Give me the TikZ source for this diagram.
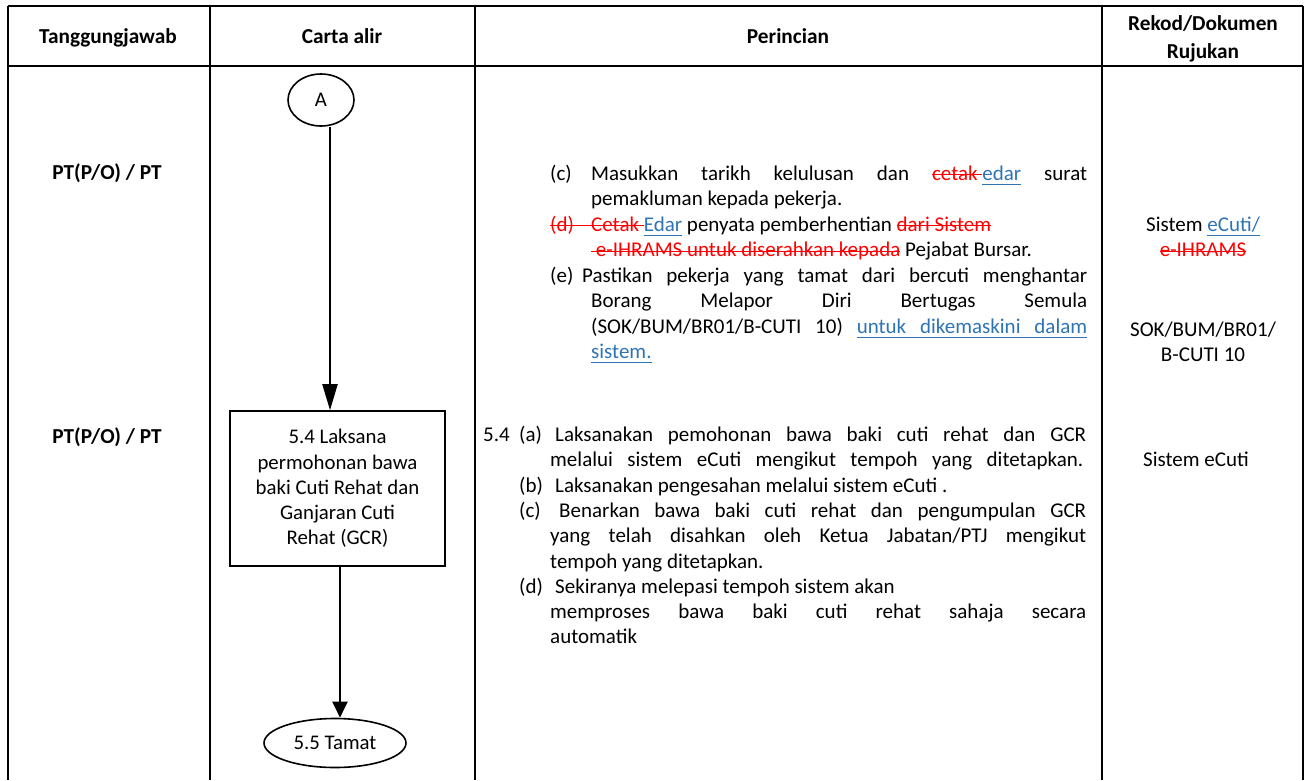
\documentclass[tikz,border=0pt]{standalone}
\usepackage{fontspec}
\setmainfont{Carlito}
\usetikzlibrary{arrows.meta,shapes.geometric}
\definecolor{ulblue}{RGB}{46,116,181}
\newcommand\stk[1]{\setbox0=\hbox{#1}\rlap{\rule[0.22em]{\wd0}{1.3pt}}\box0}
\newcommand\und[1]{\setbox0=\hbox{#1}\rlap{\rule[-0.23em]{\wd0}{1.3pt}}\box0}
\newcommand\ulspace{\leaders\hrule height -0.167em depth 0.23em\hskip\fontdimen2\font plus\fontdimen3\font minus\fontdimen4\font}
\newcommand\jl[2]{\makebox[#1][s]{#2}}
\tikzset{
  grid/.style={line width=2.4pt},
  txt/.style={inner sep=0pt, anchor=base west, font=\fontsize{21}{25.5}\selectfont},
  ctxt/.style={inner sep=0pt, anchor=base, font=\fontsize{21}{25.5}\selectfont},
  hdr/.style={inner sep=0pt, anchor=base, font=\fontsize{21.3}{25.8}\selectfont\bfseries},
  flow/.style={draw, line width=1.6pt, inner sep=0pt, font=\fontsize{20.8}{25.2}\selectfont, align=center},
  arrA/.style={line width=2pt, -{Triangle[length=26pt,width=15pt]}},
  arrB/.style={line width=2pt, -{Triangle[length=16pt,width=15pt]}}
}
\begin{document}
\begin{tikzpicture}[x=1pt,y=-1pt]
\useasboundingbox (0,0) rectangle (1311,780);
% table grid
\draw[grid] (8,6) -- (1303,6);
\draw[grid] (8,66) -- (1303,66);
\foreach \cx in {8,210,475,1102,1303} {\draw[grid] (\cx,6) -- (\cx,780);}
% headers
\node[hdr] (h1) at (108,43) {Tanggungjawab};
\node[hdr] (h2) at (342,43) {Carta alir};
\node[hdr] (h3) at (788,43) {Perincian};
\node[hdr] (h4) at (1203,30) {Rekod/Dokumen};
\node[hdr] (h5) at (1203,58) {Rujukan};
% responsibility
\node[hdr] (r1) at (107,179) {PT(P/O) / PT};
\node[hdr] (r2) at (107,443) {PT(P/O) / PT};
% flowchart
\node[flow, ellipse, minimum width=66pt, minimum height=52pt] (A) at (321,100) {A};
\node[flow, rectangle, minimum width=215pt, minimum height=155pt] (box) at (337.5,488.5)
  {5.4 Laksana\\permohonan bawa\\baki Cuti Rehat dan\\Ganjaran Cuti\\Rehat (GCR)};
\node[flow, ellipse, minimum width=142pt, minimum height=49pt] (end) at (335,743) {5.5 Tamat};
\draw[arrA] ([xshift=9pt]A.south) -- ([xshift=-7.5pt]box.north);
\draw[arrB] ([xshift=2.5pt]box.south) -- ([xshift=5pt]end.north);
% Perincian upper block
\node[txt] (c1l) at (550,180) {(c)};
\node[txt] (c1) at (591,180) {\jl{496pt}{Masukkan tarikh kelulusan dan {\color{red}\stk{cetak }}{\color{ulblue}\und{edar}} surat}};
\node[txt] (c2) at (591,205.5) {pemakluman kepada pekerja.};
\node[txt] (d1) at (550,231) {{\color{red}\stk{\makebox[41pt][l]{(d)}Cetak }}{\color{ulblue}\und{Edar}} penyata pemberhentian {\color{red}\stk{dari Sistem}}};
\node[txt] (d2) at (591,256.5) {{\color{red}\stk{ e-IHRAMS untuk diserahkan kepada}} Pejabat Bursar.};
\node[txt] (e1l) at (550,282) {(e)};
\node[txt] (e1) at (582,282) {\jl{505pt}{Pastikan pekerja yang tamat dari bercuti menghantar}};
\node[txt] (e2) at (591,307.5) {\jl{496pt}{Borang Melapor Diri Bertugas Semula}};
\node[txt] (e3) at (591,333) {\jl{496pt}{(SOK/BUM/BR01/B-CUTI 10) {\color{ulblue}\und{untuk}\ulspace\und{dikemaskini}\ulspace\und{dalam}}}};
\node[txt] (e4) at (591,358.5) {{\color{ulblue}\und{sistem.}}};
% Perincian lower block
\node[txt] (s54) at (483,441) {5.4};
\node[txt] (a1l) at (519,441) {(a)};
\node[txt] (a1) at (555,441) {\jl{531pt}{Laksanakan pemohonan bawa baki cuti rehat dan GCR}};
\node[txt] (a2) at (550,466) {\jl{533pt}{melalui sistem eCuti mengikut tempoh yang ditetapkan.}};
\node[txt] (b1l) at (519,492) {(b)};
\node[txt] (b1) at (555,492) {Laksanakan pengesahan melalui sistem eCuti .};
\node[txt] (cc1l) at (519,517) {(c)};
\node[txt] (cc1) at (559,517) {\jl{527pt}{Benarkan bawa baki cuti rehat dan pengumpulan GCR}};
\node[txt] (cc2) at (550,542) {\jl{536pt}{yang telah disahkan oleh Ketua Jabatan/PTJ mengikut}};
\node[txt] (cc3) at (550,568) {tempoh yang ditetapkan.};
\node[txt] (dd1l) at (519,593) {(d)};
\node[txt] (dd1) at (555,593) {Sekiranya melepasi tempoh sistem akan};
\node[txt] (dd2) at (550,618) {\jl{536pt}{memproses bawa baki cuti rehat sahaja secara}};
\node[txt] (dd3) at (550,643) {automatik};
% Rekod column
\node[ctxt] (k1) at (1203,231) {Sistem {\color{ulblue}\und{eCuti/}}};
\node[ctxt] (k2) at (1203,256.5) {{\color{red}\stk{e-IHRAMS}}};
\node[ctxt] (k3) at (1203,336) {SOK/BUM/BR01/};
\node[ctxt] (k4) at (1203,361.5) {B-CUTI 10};
\node[ctxt] (k5) at (1196,466) {Sistem eCuti};
\end{tikzpicture}
\end{document}
